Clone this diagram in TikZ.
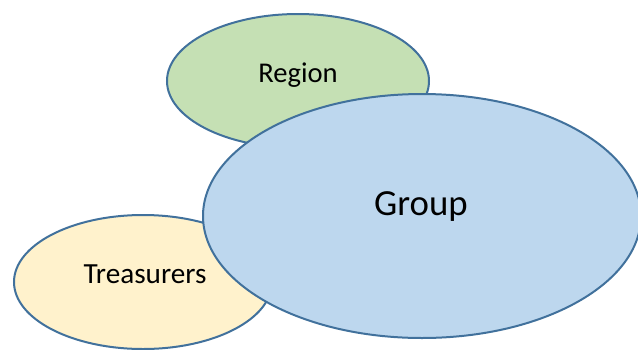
\documentclass[tikz,border=0pt]{standalone}
\usepackage{fontspec}
\setmainfont{Carlito}
\usetikzlibrary{shapes.geometric}
\definecolor{edgeblue}{HTML}{41719C}
\definecolor{regiongreen}{HTML}{C5E0B4}
\definecolor{groupblue}{HTML}{BDD7EE}
\definecolor{treasyellow}{HTML}{FFF2CC}
\tikzset{
  blob/.style={ellipse, draw=edgeblue, line width=2pt, inner sep=0pt},
  caption/.style={inner sep=0pt, text=black, anchor=base},
}
\begin{document}
\begin{tikzpicture}[x=1pt, y=-1pt]
  \useasboundingbox (0,0) rectangle (638,349);
  % the three overlapping sets, Group drawn last so it sits on top
  \node[blob, fill=treasyellow, minimum width=258pt, minimum height=134pt] (treas) at (143,282) {};
  \node[blob, fill=regiongreen, minimum width=262pt, minimum height=134pt] (region) at (298,81) {};
  \node[blob, fill=groupblue, minimum width=438pt, minimum height=244pt] (group) at (422,216) {};
  % labels, placed by their baselines
  \node[caption, font=\fontsize{28.6}{30}\selectfont] (regiontxt) at (298,82) {Region};
  \node[caption, font=\fontsize{29.2}{31}\selectfont] (treastxt) at (145,283) {Treasurers};
  \node[caption, font=\fontsize{36.8}{38}\selectfont] (grouptxt) at (421,215) {Group};
\end{tikzpicture}
\end{document}
